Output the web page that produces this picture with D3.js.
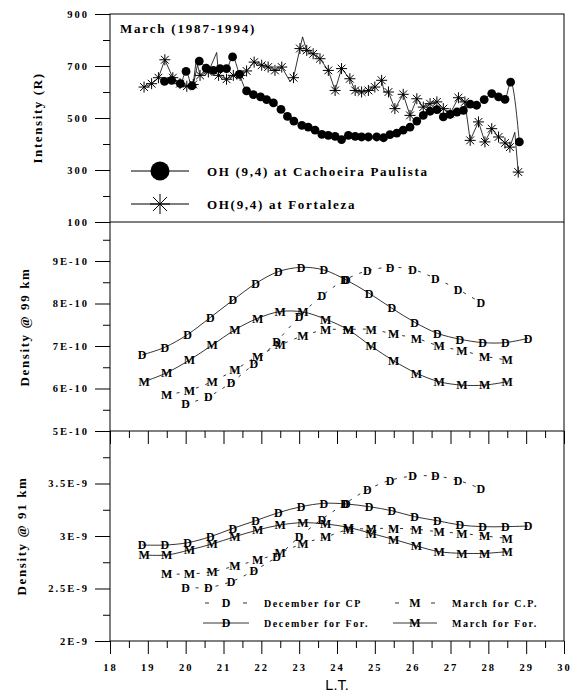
<!DOCTYPE html>
<html>
<head>
<meta charset="utf-8">
<script src="https://cdn.jsdelivr.net/npm/d3@7"></script>
<style>
  body { margin: 0; background: #fff; }
  text { font-family: "Liberation Serif", "Times New Roman", serif; }
</style>
</head>
<body>
<div id="chart"></div>
<script>
// podaci - gornji panel (intenzitet OH)
const cpX = [19.44,19.63,19.86,20.01,20.17,20.36,20.54,20.73,20.91,21.08,21.24,21.42,21.61,21.79,21.98,22.14,22.32,22.52,22.69,22.86,23.07,23.24,23.42,23.60,23.77,23.95,24.12,24.30,24.48,24.65,24.83,25.05,25.23,25.40,25.58,25.75,25.93,26.11,26.28,26.46,26.64,26.81,26.99,27.17,27.34,27.52,27.69,27.89,28.09,28.27,28.44,28.59,28.82];
const cpY = [641,645,632,679,624,719,692,683,690,690,735,668,604,590,581,571,558,533,506,488,472,465,453,437,433,429,417,433,429,427,427,427,424,436,442,453,465,488,510,526,532,504,514,523,529,553,549,571,594,581,572,638,408];

const fortX = [18.90,19.10,19.28,19.45,19.66,19.85,20.03,20.20,20.38,20.60,20.87,21.08,21.26,21.44,21.61,21.81,22.01,22.18,22.36,22.54,22.85,23.02,23.20,23.37,23.55,23.77,23.95,24.12,24.34,24.48,24.65,24.83,25.00,25.18,25.36,25.53,25.75,25.93,26.11,26.28,26.46,26.64,26.81,26.99,27.21,27.38,27.52,27.74,27.91,28.09,28.27,28.44,28.57,28.79];
const fortY = [619,632,655,724,655,632,622,629,664,677,664,649,664,664,681,715,703,696,683,696,655,767,760,747,728,683,606,690,651,606,600,606,619,645,600,536,591,510,574,542,555,562,536,517,578,562,414,485,408,459,427,404,388,292];
// dodatne tocke linije (bez markera)
const fortSpikeX = [20.28,20.82,22.76,23.09,25.25,28.70];
const fortSpikeY = [725,752,640,812,600,445];

// srednji i donji panel (gustoca)
const decForX = [18.85,19.45,20.05,20.65,21.25,21.85,22.45,23.05,23.65,24.25,24.85,25.45,26.05,26.65,27.25,27.85,28.45,29.05];
const marForX = [18.9,19.5,20.1,20.7,21.3,21.9,22.5,23.1,23.7,24.3,24.9,25.5,26.1,26.7,27.3,27.9,28.5];
const decCPX = [20.0,20.6,21.2,21.8,22.4,23.0,23.6,24.2,24.8,25.4,26.0,26.6,27.2,27.8];
const marCPX = [19.5,20.1,20.7,21.3,21.9,22.5,23.1,23.7,24.3,24.9,25.5,26.1,26.7,27.3,27.9,28.5];

const decFor99 = [6.79,6.97,7.27,7.67,8.08,8.47,8.75,8.85,8.79,8.55,8.24,7.89,7.56,7.30,7.16,7.08,7.08,7.18].map(v => v * 1e-10);
const marFor99 = [6.16,6.37,6.67,7.02,7.38,7.65,7.81,7.80,7.63,7.38,7.00,6.65,6.36,6.16,6.08,6.08,6.16].map(v => v * 1e-10);
const decCP99 = [5.64,5.81,6.14,6.58,7.10,7.69,8.18,8.55,8.77,8.85,8.80,8.59,8.33,8.02].map(v => v * 1e-10);
const marCP99 = [5.85,5.96,6.16,6.44,6.76,7.02,7.24,7.38,7.39,7.39,7.28,7.18,7.00,6.89,6.76,6.67].map(v => v * 1e-10);

const decFor91 = [2.914,2.914,2.936,2.993,3.073,3.146,3.222,3.279,3.311,3.305,3.279,3.241,3.184,3.146,3.105,3.089,3.089,3.095].map(v => v * 1e-9);
const marFor91 = [2.819,2.819,2.867,2.924,2.993,3.057,3.105,3.127,3.114,3.083,3.025,2.968,2.905,2.851,2.835,2.835,2.851].map(v => v * 1e-9);
const decCP91 = [2.51,2.51,2.565,2.67,2.80,2.99,3.16,3.305,3.44,3.53,3.57,3.57,3.53,3.45].map(v => v * 1e-9);
const marCP91 = [2.638,2.638,2.66,2.714,2.771,2.841,2.93,2.99,3.06,3.07,3.073,3.064,3.04,3.025,3.0,2.978].map(v => v * 1e-9);

// oznake osi
const xTicks = [18,19,20,21,22,23,24,25,26,27,28,29,30];
const topTicks = [100,300,500,700,900];
const midTicks = [5e-10,6e-10,7e-10,8e-10,9e-10];
const midLabels = ["5E-10","6E-10","7E-10","8E-10","9E-10"];
const botTicks = [2e-9,2.5e-9,3e-9,3.5e-9];
const botLabels = ["2E-9","2.5E-9","3E-9","3.5E-9"];

const dim = { sirina: 581, visina: 693, left: 110, right: 564, top: 14, mid1: 222, mid2: 431, bottom: 641 };

const svg = d3.select("#chart").append("svg")
    .attr("width", dim.sirina)
    .attr("height", dim.visina);

const x = d3.scaleLinear().domain([18, 30]).range([dim.left, dim.right]);
const yTop = d3.scaleLinear().domain([100, 900]).range([dim.mid1, dim.top]);
const yMid = d3.scaleLinear().domain([5e-10, 1e-9]).range([dim.mid2, dim.mid2 - 5 * 42.5]);
const yBot = d3.scaleLinear().domain([2e-9, 4e-9]).range([dim.bottom, dim.mid2]);

const tickFont = g => g.selectAll("text")
    .style("font-family", "'Liberation Serif', serif")
    .style("font-weight", "bold")
    .style("font-size", "10.5px")
    .style("letter-spacing", "2px")
    .attr("fill", "#000");

// y osi
function yAxis(scale, major, labels, minor) {
    const g = svg.append("g").attr("transform", `translate(${dim.left},0)`);
    g.append("g")
        .call(d3.axisLeft(scale).tickValues(major).tickSize(15).tickPadding(6)
            .tickFormat((d, i) => labels[i]))
        .call(a => a.select(".domain").remove())
        .call(tickFont);
    g.append("g")
        .call(d3.axisLeft(scale).tickValues(minor).tickSize(7).tickFormat(""))
        .call(a => a.select(".domain").remove());
}
yAxis(yTop, topTicks, topTicks.map(String), [200,400,600,800]);
yAxis(yMid, midTicks, midLabels, [5.5e-10,6.5e-10,7.5e-10,8.5e-10,9.5e-10]);
yAxis(yBot, botTicks, botLabels, [2.25e-9,2.75e-9,3.25e-9,3.75e-9]);

// x osi
const xMinor = d3.range(18.5, 30, 1);
[dim.bottom, dim.mid2].forEach((yy, k) => {
    const g = svg.append("g").attr("transform", `translate(0,${yy})`);
    g.append("g")
        .call(d3.axisBottom(x).tickValues(xTicks).tickSize(13).tickPadding(10)
            .tickFormat(k === 0 ? d3.format("d") : ""))
        .call(a => a.select(".domain").remove())
        .call(tickFont);
    g.append("g")
        .call(d3.axisBottom(x).tickValues(xMinor).tickSize(7).tickFormat(""))
        .call(a => a.select(".domain").remove());
});

// okvir
const frame = svg.append("g").attr("stroke", "#000").attr("stroke-width", 1);
frame.append("rect")
    .attr("x", dim.left).attr("y", dim.top)
    .attr("width", dim.right - dim.left).attr("height", dim.bottom - dim.top)
    .attr("fill", "none");
[dim.mid1, dim.mid2].forEach(yy => frame.append("line")
    .attr("x1", dim.left).attr("x2", dim.right).attr("y1", yy).attr("y2", yy));

// naslovi osi
function yLabel(txt, xx, yy) {
    svg.append("text")
        .attr("transform", `translate(${xx},${yy}) rotate(-90)`)
        .attr("text-anchor", "middle")
        .style("font-weight", "bold")
        .style("font-size", "13px")
        .style("letter-spacing", "1.6px")
        .text(txt);
}
yLabel("Intensity (R)", 42, 118);
yLabel("Density @ 99 km", 29, 327);
yLabel("Density @ 91 km", 26, 536);

svg.append("text")
    .attr("x", 337).attr("y", 690)
    .attr("text-anchor", "middle")
    .style("font-family", "'Liberation Sans', Arial, sans-serif")
    .style("font-size", "14.5px")
    .text("L.T.");

svg.append("text")
    .attr("x", 120).attr("y", 33)
    .style("font-weight", "bold")
    .style("font-size", "13px")
    .style("letter-spacing", "1.8px")
    .text("March (1987-1994)");

// gornji panel
const lineTop = d3.line().x(d => x(d[0])).y(d => yTop(d[1]));
const fortLine = d3.zip(fortX.concat(fortSpikeX), fortY.concat(fortSpikeY))
    .sort((a, b) => a[0] - b[0]);

svg.append("path")
    .attr("d", lineTop(fortLine))
    .attr("fill", "none").attr("stroke", "#000").attr("stroke-width", 0.8);
svg.append("path")
    .attr("d", lineTop.curve(d3.curveMonotoneX)(d3.zip(cpX, cpY)))
    .attr("fill", "none").attr("stroke", "#000").attr("stroke-width", 0.8);
lineTop.curve(d3.curveLinear);

function star(g, cx, cy, r) {
    [0, 45, 90, 135].forEach(a => {
        const rad = a * Math.PI / 180;
        g.append("line")
            .attr("x1", cx - r * Math.cos(rad)).attr("y1", cy - r * Math.sin(rad))
            .attr("x2", cx + r * Math.cos(rad)).attr("y2", cy + r * Math.sin(rad))
            .attr("stroke", "#000").attr("stroke-width", 1);
    });
}
const stars = svg.append("g");
fortX.forEach((d, i) => star(stars, x(d), yTop(fortY[i]), 5.5));

svg.append("g").selectAll("circle")
    .data(d3.zip(cpX, cpY))
    .join("circle")
    .attr("cx", d => x(d[0]))
    .attr("cy", d => yTop(d[1]))
    .attr("r", 4.4)
    .attr("fill", "#000");

// legenda gornjeg panela
const leg = svg.append("g");
[171, 204].forEach(yy => leg.append("line")
    .attr("x1", 131).attr("x2", 189).attr("y1", yy).attr("y2", yy)
    .attr("stroke", "#000").attr("stroke-width", 1));
leg.append("circle").attr("cx", 160).attr("cy", 171).attr("r", 9.5).attr("fill", "#000");
star(leg, 160, 204, 10);
leg.append("text").attr("x", 207).attr("y", 176)
    .style("font-weight", "bold").style("font-size", "13px").style("letter-spacing", "1.7px")
    .text("OH (9,4) at Cachoeira Paulista");
leg.append("text").attr("x", 207).attr("y", 209)
    .style("font-weight", "bold").style("font-size", "13px").style("letter-spacing", "1.7px")
    .text("OH(9,4) at Fortaleza");

// serije gustoce
function serija(xs, ys, yScale, letter, dashed) {
    const line = d3.line().curve(d3.curveCatmullRom)
        .x(d => x(d[0])).y(d => yScale(d[1]));
    const pts = d3.zip(xs, ys);
    svg.append("path")
        .attr("d", line(pts))
        .attr("fill", "none")
        .attr("stroke", "#000")
        .attr("stroke-width", 0.8)
        .attr("stroke-dasharray", dashed ? "3,7" : null);
    svg.append("g").selectAll("text")
        .data(pts)
        .join("text")
        .attr("x", d => x(d[0]))
        .attr("y", d => yScale(d[1]))
        .attr("dy", "0.36em")
        .attr("text-anchor", "middle")
        .style("font-weight", "bold")
        .style("font-size", "12px")
        .text(letter);
}
serija(decForX, decFor99, yMid, "D", false);
serija(marForX, marFor99, yMid, "M", false);
serija(decCPX, decCP99, yMid, "D", true);
serija(marCPX, marCP99, yMid, "M", true);
serija(decForX, decFor91, yBot, "D", false);
serija(marForX, marFor91, yBot, "M", false);
serija(decCPX, decCP91, yBot, "D", true);
serija(marCPX, marCP91, yBot, "M", true);

// legenda donjeg panela
const leg2 = svg.append("g");
const legItems = [
    { x0: 203, x1: 249, xm: 226, y: 603, letter: "D", dashed: true, txt: "December for CP", tx: 264 },
    { x0: 203, x1: 249, xm: 226, y: 623, letter: "D", dashed: false, txt: "December for For.", tx: 264 },
    { x0: 393, x1: 437, xm: 415, y: 603, letter: "M", dashed: true, txt: "March for C.P.", tx: 452 },
    { x0: 393, x1: 437, xm: 415, y: 623, letter: "M", dashed: false, txt: "March for For.", tx: 452 }
];
legItems.forEach(d => {
    if (d.dashed) {
        [[d.x0 + 2, d.x0 + 6], [d.x1 - 6, d.x1 - 2]].forEach(s => leg2.append("line")
            .attr("x1", s[0]).attr("x2", s[1]).attr("y1", d.y).attr("y2", d.y)
            .attr("stroke", "#000").attr("stroke-width", 0.8));
    } else {
        leg2.append("line").attr("x1", d.x0).attr("x2", d.x1).attr("y1", d.y).attr("y2", d.y)
            .attr("stroke", "#000").attr("stroke-width", 0.8);
    }
    leg2.append("text").attr("x", d.xm).attr("y", d.y).attr("dy", "0.36em")
        .attr("text-anchor", "middle")
        .style("font-weight", "bold").style("font-size", "12px")
        .text(d.letter);
    leg2.append("text").attr("x", d.tx).attr("y", d.y).attr("dy", "0.36em")
        .style("font-weight", "bold").style("font-size", "10px").style("letter-spacing", "1.6px")
        .text(d.txt);
});
</script>
</body>
</html>
